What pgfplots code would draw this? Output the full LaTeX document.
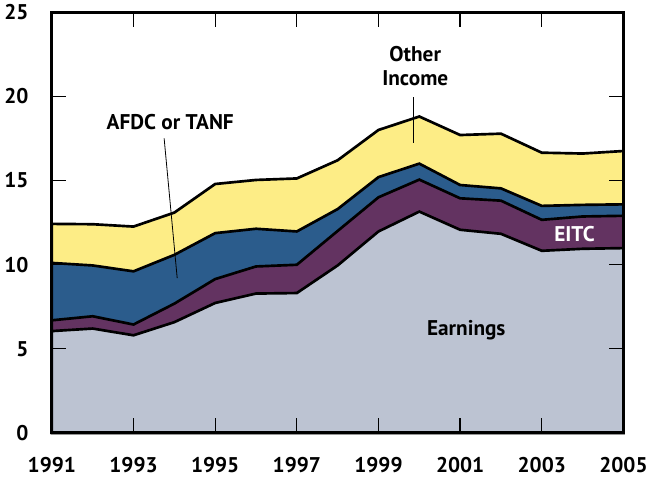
\documentclass[border=0pt]{standalone}
\usepackage{pgfplots}
\pgfplotsset{compat=1.18}
\usepackage{fontspec}
\setmainfont{PT Sans}

\definecolor{earnc}{HTML}{BCC3D2}
\definecolor{eitcc}{HTML}{633361}
\definecolor{afdcc}{HTML}{2B5C8C}
\definecolor{othc}{HTML}{FDED86}

% cumulative tops of each band
\pgfplotstableread{
year earn eitc afdc total
1991 6.05 6.69 10.1 12.42
1992 6.2 6.93 9.95 12.4
1993 5.8 6.44 9.6 12.26
1994 6.58 7.68 10.58 13.09
1995 7.72 9.14 11.87 14.79
1996 8.28 9.89 12.13 15.03
1997 8.31 9.99 11.97 15.12
1998 9.95 12.0 13.3 16.2
1999 11.97 14.0 15.2 18.0
2000 13.15 15.05 16.0 18.8
2001 12.07 13.94 14.73 17.7
2002 11.83 13.8 14.53 17.78
2003 10.82 12.66 13.49 16.65
2004 10.94 12.86 13.55 16.6
2005 10.98 12.9 13.58 16.75
}\bands

\begin{document}
\begin{tikzpicture}
\begin{axis}[
    scale only axis,
    width=430pt, height=316.5pt,
    xmin=1991, xmax=2005, ymin=0, ymax=25,
    xtick={1991,1993,...,2005},
    ytick={0,5,...,25},
    xticklabel style={/pgf/number format/1000 sep={}, yshift=-15pt},
    yticklabel style={xshift=-14pt},
    /pgf/number format/assume math mode=true,
    ticklabel style={font=\fontsize{16}{18}\selectfont\bfseries},
    tick align=inside,
    major tick length=11pt,
    tick style={black, line width=1pt},
    axis line style={line width=2.2pt},
    axis on top,
    clip=false,
]
\addplot[draw=black, line width=2pt, fill=othc] table[x=year,y=total] {\bands} \closedcycle;
\addplot[draw=black, line width=2pt, fill=afdcc] table[x=year,y=afdc] {\bands} \closedcycle;
\addplot[draw=black, line width=2pt, fill=eitcc] table[x=year,y=eitc] {\bands} \closedcycle;
\addplot[draw=black, line width=2pt, fill=earnc] table[x=year,y=earn] {\bands} \closedcycle;

\draw[line width=0.6pt] (axis cs:1993.75,17.5) -- (axis cs:1994.07,9.2);
\node[font=\fontsize{16}{18}\selectfont\bfseries] at (axis cs:1993.9,18.5) {AFDC or TANF};
\draw[line width=0.6pt] (axis cs:1999.85,19.95) -- (axis cs:1999.85,17.2);
\node[font=\fontsize{16}{18}\selectfont\bfseries, align=center] at (axis cs:1999.9,21.8) {Other\\Income};
\node[font=\fontsize{16}{18}\selectfont\bfseries, text=white] at (axis cs:2003.8,11.8) {EITC};
\node[font=\fontsize{16}{18}\selectfont\bfseries] at (axis cs:2001.15,6.1) {Earnings};
\end{axis}
\end{tikzpicture}
\end{document}
